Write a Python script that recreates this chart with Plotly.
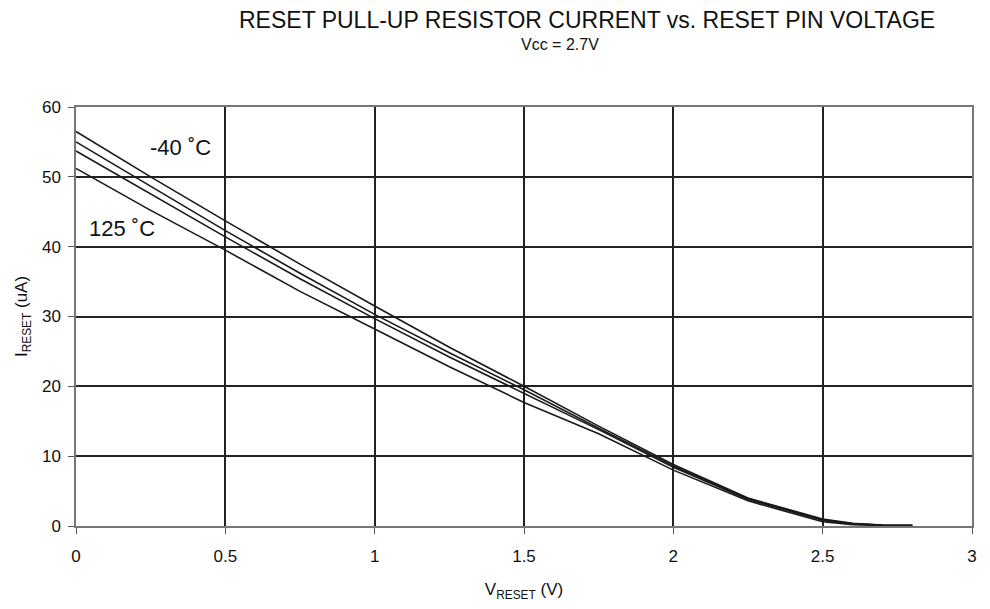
import plotly.graph_objects as go

# Reset pin voltage (V)
v_reset = [0, 0.25, 0.5, 0.75, 1.0, 1.25, 1.5, 1.75, 2.0, 2.25, 2.5, 2.6, 2.7, 2.8]

# Pull-up current (uA) per temperature
i_m40 = [56.5, 50.0, 43.7, 37.5, 31.5, 25.6, 20.0, 14.3, 8.8, 4.0, 1.0, 0.4, 0.15, 0.1]
i_25 = [55.0, 48.6, 42.3, 36.2, 30.3, 24.8, 19.5, 14.0, 8.6, 3.9, 0.9, 0.35, 0.1, 0.05]
i_85 = [53.7, 47.5, 41.4, 35.4, 29.7, 24.2, 19.0, 13.8, 8.4, 3.8, 0.8, 0.3, 0.1, 0.05]
i_125 = [51.2, 45.2, 39.5, 33.6, 28.2, 22.8, 17.7, 13.2, 8.0, 3.6, 0.6, 0.2, 0.05, 0.05]

series = [("-40", i_m40), ("25", i_25), ("85", i_85), ("125", i_125)]

FONT = "Liberation Sans, Arial, sans-serif"

fig = go.Figure()
for name, vals in series:
    fig.add_trace(go.Scatter(
        x=v_reset, y=vals, mode='lines', name=name,
        line=dict(color='#1a1a1a', width=1.6),
        showlegend=False
    ))

# temperature labels
fig.add_annotation(x=0.35, y=54.2, text="-40 ˚C", showarrow=False,
                   font=dict(size=22, color='#111', family=FONT))
fig.add_annotation(x=0.153, y=42.6, text="125 ˚C", showarrow=False,
                   font=dict(size=22, color='#111', family=FONT))

# title + subtitle (plot top sits at 107px, plot height 419px)
fig.add_annotation(x=0.57, y=1.2075, xref='paper', yref='paper',
                   xanchor='center', yanchor='middle',
                   text="RESET PULL-UP RESISTOR CURRENT vs. RESET PIN VOLTAGE",
                   showarrow=False, font=dict(size=23, color='#111', family=FONT))
fig.add_annotation(x=0.54, y=1.15, xref='paper', yref='paper',
                   xanchor='center', yanchor='middle',
                   text="Vcc = 2.7V",
                   showarrow=False, font=dict(size=16, color='#111', family=FONT))

fig.update_layout(
    width=990, height=609,
    margin=dict(l=68, r=26, t=99, b=91),
    paper_bgcolor='white', plot_bgcolor='white',
    font=dict(family=FONT, color='#111', size=17),
    xaxis=dict(
        range=[0, 3], dtick=0.5, tickformat='~g',
        showgrid=True, gridcolor='#222', gridwidth=1.5,
        showline=True, linecolor='#777', linewidth=1.5, mirror=True,
        zeroline=False, ticks='outside', ticklen=6, tickcolor='#555',
        ticklabelstandoff=8,
        title=dict(text="V<sub>RESET</sub> (V)", standoff=18, font=dict(size=17)),
    ),
    yaxis=dict(
        range=[0, 60], dtick=10,
        showgrid=True, gridcolor='#222', gridwidth=1.5,
        showline=True, linecolor='#777', linewidth=1.5, mirror=True,
        zeroline=False, ticks='outside', ticklen=6, tickcolor='#555',
        ticklabelstandoff=4,
        title=dict(text="I<sub>RESET</sub> (uA)", standoff=10, font=dict(size=17)),
    ),
)

fig.write_html("out.html")
